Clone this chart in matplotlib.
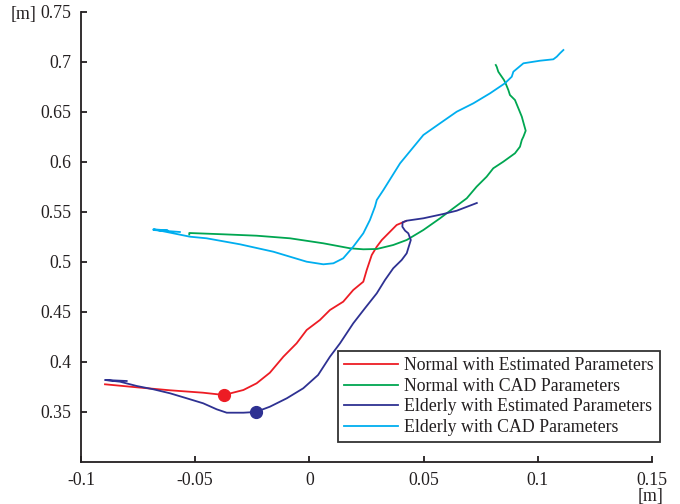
import matplotlib
matplotlib.use("Agg")
import matplotlib.pyplot as plt

plt.rcParams['font.family'] = ['Liberation Serif', 'DejaVu Serif']

# Normal with Estimated Parameters
red_x = [-0.0895, -0.0756, -0.0610, -0.0466, -0.0374, -0.0289, -0.0231, -0.0173, -0.0114,
         -0.0056, -0.0012, 0.0046, 0.0090, 0.0148, 0.0192, 0.0236, 0.0251, 0.0273, 0.0295,
         0.0317, 0.0353, 0.0382, 0.0423]
red_y = [0.3777, 0.3747, 0.3717, 0.3693, 0.3670, 0.3720, 0.3787, 0.3893, 0.4053,
         0.4187, 0.4320, 0.4420, 0.4520, 0.4603, 0.4720, 0.4803, 0.4920, 0.5070, 0.5153,
         0.5220, 0.5303, 0.5370, 0.5410]
red_mark = (-0.0374, 0.3670)

# Normal with CAD Parameters
green_x = [-0.0526, -0.0526, -0.0377, -0.0231, -0.0085, 0.0061, 0.0178, 0.0236, 0.0295,
           0.0367, 0.0426, 0.0499, 0.0572, 0.0630, 0.0689, 0.0732, 0.0776, 0.0805, 0.0849,
           0.0900, 0.0922, 0.0930, 0.0937, 0.0947, 0.0940, 0.0930, 0.0915, 0.0900, 0.0878,
           0.0871, 0.0859, 0.0852, 0.0842, 0.0827, 0.0820, 0.0816]
green_y = [0.5275, 0.5290, 0.5277, 0.5263, 0.5237, 0.5187, 0.5137, 0.5127, 0.5130,
           0.5170, 0.5220, 0.5320, 0.5437, 0.5537, 0.5637, 0.5753, 0.5853, 0.5937, 0.6003,
           0.6087, 0.6153, 0.6220, 0.6253, 0.6313, 0.6370, 0.6453, 0.6537, 0.6620, 0.6670,
           0.6720, 0.6787, 0.6820, 0.6853, 0.6903, 0.6953, 0.6970]

# Elderly with Estimated Parameters
blue_x = [-0.0800, -0.0895, -0.0829, -0.0756, -0.0683, -0.0610, -0.0537, -0.0465, -0.0406,
          -0.0362, -0.0289, -0.0235, -0.0173, -0.0099, -0.0027, 0.0038, 0.0090, 0.0134,
          0.0192, 0.0243, 0.0295, 0.0331, 0.0367, 0.0404, 0.0426, 0.0444, 0.0433, 0.0419,
          0.0407, 0.0408, 0.0426, 0.0499, 0.0586, 0.0645, 0.0733]
blue_y = [0.3810, 0.3820, 0.3803, 0.3760, 0.3727, 0.3687, 0.3637, 0.3587, 0.3527,
          0.3493, 0.3493, 0.3500, 0.3553, 0.3637, 0.3737, 0.3870, 0.4053, 0.4187,
          0.4387, 0.4537, 0.4687, 0.4820, 0.4937, 0.5020, 0.5087, 0.5220, 0.5287, 0.5313,
          0.5353, 0.5397, 0.5413, 0.5437, 0.5480, 0.5513, 0.5590]
blue_mark = (-0.0235, 0.3500)

# Elderly with CAD Parameters
cyan_x = [-0.0567, -0.0683, -0.0620, -0.0683, -0.0596, -0.0523, -0.0450, -0.0304, -0.0158,
          -0.0085, -0.0012, 0.0061, 0.0105, 0.0148, 0.0192, 0.0236, 0.0265, 0.0287, 0.0295,
          0.0324, 0.0397, 0.0499, 0.0572, 0.0645, 0.0718, 0.0791, 0.0856, 0.0886, 0.0893,
          0.0937, 0.1010, 0.1068, 0.1083, 0.1097, 0.1112]
cyan_y = [0.5300, 0.5320, 0.5315, 0.5327, 0.5287, 0.5253, 0.5237, 0.5177, 0.5103,
          0.5053, 0.5003, 0.4977, 0.4987, 0.5037, 0.5153, 0.5287, 0.5420, 0.5553, 0.5620,
          0.5720, 0.5987, 0.6270, 0.6387, 0.6503, 0.6587, 0.6687, 0.6787, 0.6853, 0.6903,
          0.6987, 0.7013, 0.7027, 0.7053, 0.7087, 0.7120]

labels = ["Normal with Estimated Parameters", "Normal with CAD Parameters",
          "Elderly with Estimated Parameters", "Elderly with CAD Parameters"]
colors = ["#ED1C24", "#00A651", "#2E3192", "#00AEEF"]

xticks = [-0.1, -0.05, 0, 0.05, 0.1, 0.15]
xtick_labels = ["-0.1", "-0.05", "0", "0.05", "0.1", "0.15"]
yticks = [0.35, 0.4, 0.45, 0.5, 0.55, 0.6, 0.65, 0.7, 0.75]
ytick_labels = ["0.35", "0.4", "0.45", "0.5", "0.55", "0.6", "0.65", "0.7", "0.75"]

fs = 12.8
fig = plt.figure(figsize=(6.8, 5.04), dpi=100)
ax = fig.add_axes([81/680, 1-462/504, (652-81)/680, (462-12)/504])

lw = 1.3
ax.plot(red_x, red_y, color=colors[0], lw=lw, label=labels[0])
ax.plot(green_x, green_y, color=colors[1], lw=lw, label=labels[1])
ax.plot(blue_x, blue_y, color=colors[2], lw=lw, label=labels[2])
ax.plot(cyan_x, cyan_y, color=colors[3], lw=lw, label=labels[3])
ax.plot([red_mark[0]], [red_mark[1]], 'o', color=colors[0], ms=8.5)
ax.plot([blue_mark[0]], [blue_mark[1]], 'o', color=colors[2], ms=8.5)

ax.set_xlim(-0.1, 0.15)
ax.set_ylim(0.3, 0.75)
ax.set_xticks(xticks)
ax.set_xticklabels(xtick_labels)
ax.set_yticks(yticks)
ax.set_yticklabels(ytick_labels)

spine_col = "#231F20"
for s in ['top', 'right']:
    ax.spines[s].set_visible(False)
for s in ['left', 'bottom']:
    ax.spines[s].set_linewidth(1.3)
    ax.spines[s].set_color(spine_col)
ax.tick_params(direction='in', length=4, width=1.3, color=spine_col,
               labelsize=fs, labelcolor=spine_col, pad=7)

fig.text(24/680, 1-15/504, "[m]", ha='center', va='center', fontsize=fs, color=spine_col)
fig.text(651/680, 1-496/504, "[m]", ha='center', va='center', fontsize=fs, color=spine_col)

leg = ax.legend(loc='upper left', bbox_to_anchor=(338/680, 1-351/504),
                bbox_transform=fig.transFigure, frameon=True, fancybox=False,
                edgecolor='black', fontsize=fs, handlelength=3.0, handletextpad=0.35,
                borderaxespad=0, labelspacing=0.2, borderpad=0.35)
leg.get_frame().set_linewidth(1.3)
for t in leg.get_texts():
    t.set_color(spine_col)

fig.savefig("out.png", dpi=100)
